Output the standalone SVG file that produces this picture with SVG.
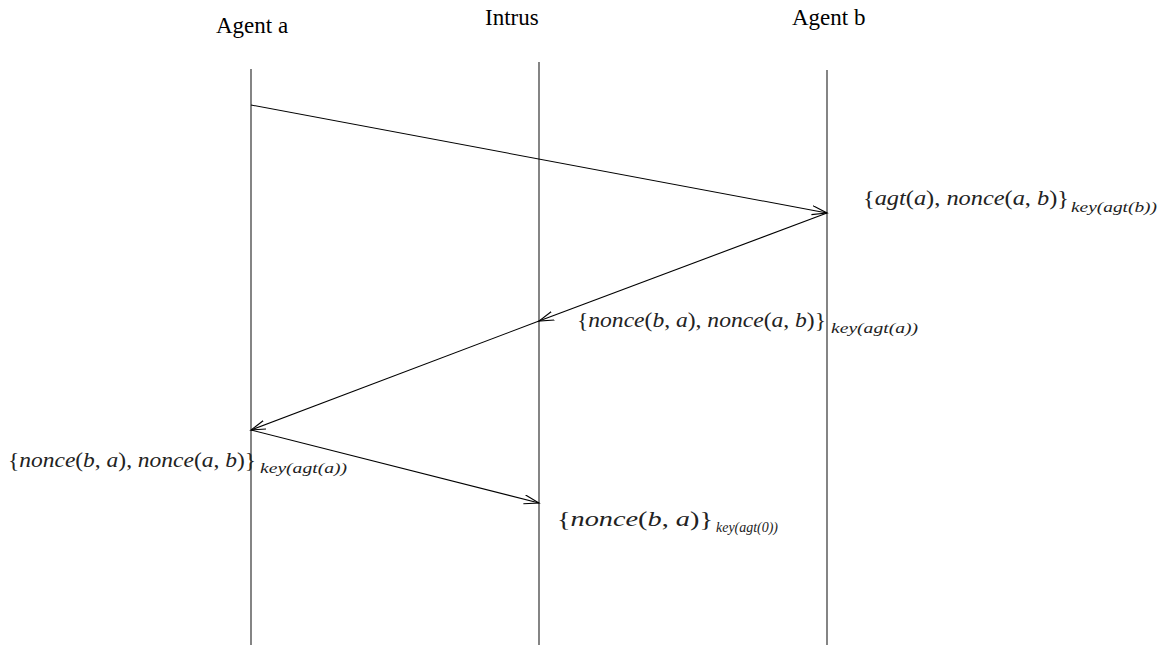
<svg xmlns="http://www.w3.org/2000/svg" width="1166" height="645" viewBox="0 0 1166 645">
<style>
.hdr{font-family:"Liberation Serif",serif;font-size:23px;fill:#000}
.m{font-family:"Liberation Serif",serif;font-size:22px;fill:#222}
.s{font-family:"Liberation Serif",serif;font-size:14px;fill:#222;font-style:italic}
.i{font-style:italic}
.life{stroke:#333;stroke-width:1.2;fill:none}
.msg{stroke:#000;stroke-width:1.1;fill:none;marker-end:url(#ah)}
</style>
<defs>
<marker id="ah" markerUnits="userSpaceOnUse" markerWidth="18" markerHeight="12" refX="15" refY="5" orient="auto">
<path d="M0,0.5 L15,5 L0,9.5" fill="none" stroke="#000" stroke-width="1.1"/>
</marker>
</defs>
<g id="agent-a">
<text class="hdr" x="216" y="33">Agent a</text>
<line class="life" x1="251" y1="69" x2="251" y2="645"/>
</g>
<g id="intrus">
<text class="hdr" x="485" y="25">Intrus</text>
<line class="life" x1="539" y1="62" x2="539" y2="645"/>
</g>
<g id="agent-b">
<text class="hdr" x="792" y="25">Agent b</text>
<line class="life" x1="827" y1="70" x2="827" y2="645"/>
</g>
<g id="connectors">
<line class="msg" x1="251" y1="105" x2="827" y2="213"/>
<line class="msg" x1="827" y1="213" x2="539" y2="321"/>
<line class="msg" x1="539" y1="321" x2="251" y2="430"/>
<line class="msg" x1="251" y1="430" x2="539" y2="503"/>
</g>
<g id="label-1">
<text class="m" x="863" y="205" textLength="206" lengthAdjust="spacingAndGlyphs">{<tspan class="i">agt</tspan>(<tspan class="i">a</tspan>), <tspan class="i">nonce</tspan>(<tspan class="i">a</tspan>, <tspan class="i">b</tspan>)}</text>
<text class="s" x="1071" y="212" textLength="86" lengthAdjust="spacingAndGlyphs">key(agt(b))</text>
</g>
<g id="label-2">
<text class="m" x="577" y="327" textLength="249" lengthAdjust="spacingAndGlyphs">{<tspan class="i">nonce</tspan>(<tspan class="i">b</tspan>, <tspan class="i">a</tspan>), <tspan class="i">nonce</tspan>(<tspan class="i">a</tspan>, <tspan class="i">b</tspan>)}</text>
<text class="s" x="831" y="333" textLength="87" lengthAdjust="spacingAndGlyphs">key(agt(a))</text>
</g>
<g id="label-3">
<text class="m" x="8" y="467" textLength="248" lengthAdjust="spacingAndGlyphs">{<tspan class="i">nonce</tspan>(<tspan class="i">b</tspan>, <tspan class="i">a</tspan>), <tspan class="i">nonce</tspan>(<tspan class="i">a</tspan>, <tspan class="i">b</tspan>)}</text>
<text class="s" x="260" y="473" textLength="87" lengthAdjust="spacingAndGlyphs">key(agt(a))</text>
</g>
<g id="label-4">
<text class="m" x="557" y="526" textLength="156" lengthAdjust="spacingAndGlyphs">{<tspan class="i">nonce</tspan>(<tspan class="i">b</tspan>, <tspan class="i">a</tspan>)}</text>
<text class="s" x="716" y="532" textLength="62" lengthAdjust="spacingAndGlyphs">key(agt(0))</text>
</g>
</svg>
